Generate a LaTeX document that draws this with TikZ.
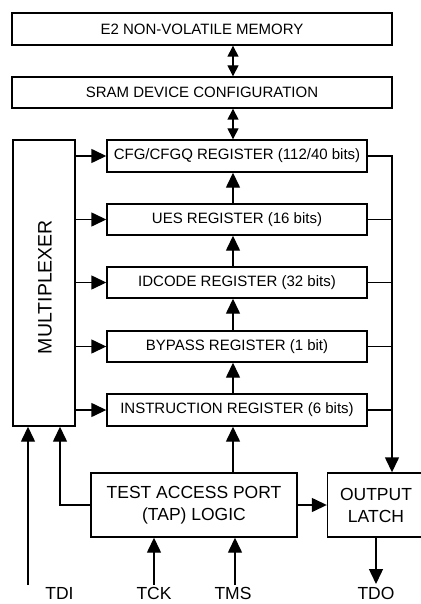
\documentclass[tikz,border=0pt]{standalone}
\usepackage{fontspec}
\setmainfont{Liberation Sans}
\usetikzlibrary{arrows.meta}
\tikzset{
  box/.style={draw, line width=1.4pt, rectangle, inner sep=0pt, align=center},
  regfont/.style={font=\fontsize{15}{18}\selectfont},
  bigfont/.style={font=\fontsize{17.5}{22}\selectfont},
  conn/.style={line width=1.4pt},
  arr/.style={conn, -{Triangle[length=15pt,width=14pt]}},
  darr/.style={conn, {Triangle[length=11pt,width=11pt]}-{Triangle[length=11pt,width=11pt]}},
  lbl/.style={bigfont, anchor=base, inner sep=0pt}
}
\begin{document}
\begin{tikzpicture}[x=1pt,y=-1pt]
\useasboundingbox (0,0) rectangle (420,604);
% boxes
\node[box, regfont, minimum width=380pt, minimum height=32pt] (e2) at (202,29) {E2 NON-VOLATILE MEMORY};
\node[box, regfont, minimum width=380pt, minimum height=31pt] (sram) at (202,92.5) {SRAM DEVICE CONFIGURATION};
\node[box, regfont, minimum width=260pt, minimum height=32pt] (cfg) at (237,156) {CFG/CFGQ REGISTER (112/40 bits)};
\node[box, regfont, minimum width=260pt, minimum height=31pt] (ues) at (237,219.5) {UES REGISTER (16 bits)};
\node[box, regfont, minimum width=260pt, minimum height=31pt] (idc) at (237,282.5) {IDCODE REGISTER (32 bits)};
\node[box, regfont, minimum width=260pt, minimum height=31pt] (byp) at (237,346.5) {BYPASS REGISTER (1 bit)};
\node[box, regfont, minimum width=260pt, minimum height=32pt] (ins) at (237,410) {INSTRUCTION REGISTER (6 bits)};
\node[box, minimum width=62pt, minimum height=286pt] (mux) at (44,283) {};
\node[font=\fontsize{19.5}{22}\selectfont, rotate=90, inner sep=0pt] (muxt) at (45,287) {MULTIPLEXER};
\node[box, bigfont, minimum width=206pt, minimum height=64pt] (tap) at (194,505) {TEST ACCESS PORT\\(TAP) LOGIC};
\node[box, bigfont, minimum width=97pt, minimum height=64pt] (out) at (376,505) {OUTPUT\\LATCH};
% helper coordinates
\coordinate (vx) at (233,0);
\coordinate (bus) at (392,156);
\coordinate (mx2) at (60,0);
\coordinate (tdi) at (28,585);
\coordinate (tck) at (154,585);
\coordinate (tms) at (235,585);
\coordinate (tdo) at (376,584);
% vertical register chain
\draw[darr] (e2.south -| vx) -- (sram.north -| vx);
\draw[darr] (sram.south -| vx) -- (cfg.north -| vx);
\draw[arr] (ues.north -| vx) -- (cfg.south -| vx);
\draw[arr] (idc.north -| vx) -- (ues.south -| vx);
\draw[arr] (byp.north -| vx) -- (idc.south -| vx);
\draw[arr] (ins.north -| vx) -- (byp.south -| vx);
\draw[arr] (tap.north -| vx) -- (ins.south -| vx);
% multiplexer outputs
\foreach \r in {cfg,ues,idc,byp,ins}
  \draw[arr] (mux.east |- \r.west) -- (\r.west);
% output bus
\draw[arr] (cfg.east) -- (bus) -- (bus |- out.north);
\foreach \r in {ues,idc,byp,ins}
  \draw[conn] (\r.east) -- (\r.east -| bus);
% TAP connections
\draw[arr] (tap.east) -- (out.west);
\draw[arr] (tap.west) -| (mux.south -| mx2);
\draw[arr] (tdi) -- (tdi |- mux.south);
\draw[arr] (tck) -- (tck |- tap.south);
\draw[arr] (tms) -- (tms |- tap.south);
\draw[arr] (out.south) -- (tdo);
% labels
\node[lbl] (ltdi) at (59.5,599.5) {TDI};
\node[lbl] (ltck) at (154,599.5) {TCK};
\node[lbl] (ltms) at (233,599.5) {TMS};
\node[lbl] (ltdo) at (376,599.5) {TDO};
\end{tikzpicture}
\end{document}
